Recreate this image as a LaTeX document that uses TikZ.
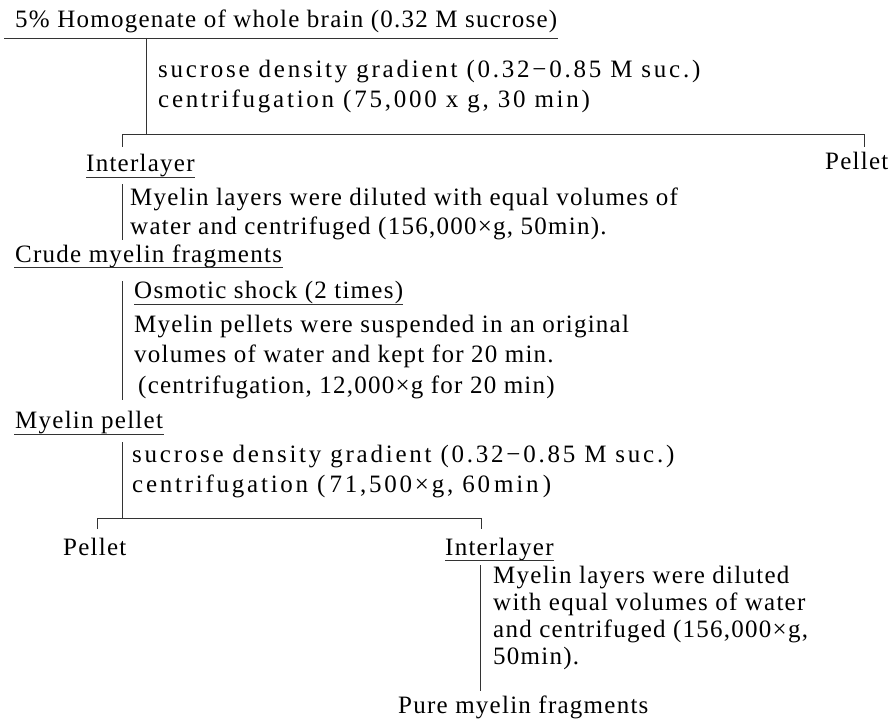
\documentclass[tikz,border=0pt]{standalone}
\usepackage{fontspec}
\setmainfont{Liberation Serif}[LetterSpace=5]
\newfontfamily\widefont{Liberation Serif}[LetterSpace=11]
\usetikzlibrary{positioning}
\tikzset{
  txt/.style={inner sep=0pt, anchor=base west, align=left, font=\fontsize{25}{29.5}\selectfont},
  wide/.style={txt, font=\widefont\fontsize{25}{30}\selectfont},
  rule/.style={line width=0.8pt, black!80},
}
\begin{document}
\begin{tikzpicture}[x=1pt,y=-1pt,line cap=butt]
\useasboundingbox (0,0) rectangle (891,722);
% homogenate, first gradient
\node[txt] (hom) at (15,28) {5\% Homogenate of whole brain (0.32 M sucrose)};
\draw[rule] ([shift={(-11pt,-10pt)}]hom.base west) coordinate (hom-u) -- ([shift={(1pt,-10pt)}]hom.base east);
\node[wide] (grad1) at (158,108) {sucrose density gradient (0.32−0.85 M suc.)\\centrifugation (75,000 x g, 30 min)};
\coordinate (split1) at (146,134);
\coordinate (tick1l) at (122,147);
\coordinate (tick1r) at (864,147);
\draw[rule] (hom-u -| split1) -- (split1);
\draw[rule] (tick1l) -- ++(0,-13) -| (tick1r);
\node[txt] (inter1) at (86,172) {Interlayer};
\draw[rule] ([yshift=-5pt]inter1.base west) -- ([yshift=-5pt]inter1.base east);
\node[txt] (pel1) at (825,170) {Pellet};
% crude myelin
\node[txt, font=\fontsize{25}{29}\selectfont] (dil1) at (130,234) {Myelin layers were diluted with equal volumes of\\water and centrifuged (156,000×g, 50min).};
\draw[rule] ([shift={(-8pt,3pt)}]dil1.north west) -- ([shift={(-8pt,0pt)}]dil1.south west);
\node[txt] (crude) at (15,262) {Crude myelin fragments};
\draw[rule] ([shift={(-1pt,-5pt)}]crude.base west) -- ([shift={(1pt,-5pt)}]crude.base east);
% osmotic shock
\node[txt] (osm) at (134,298) {Osmotic shock (2 times)};
\draw[rule] ([yshift=-6pt]osm.base west) -- ([yshift=-6pt]osm.base east);
\node[txt, font=\fontsize{25}{30.5}\selectfont] (shock) at (134,393) {Myelin pellets were suspended in an original\\volumes of water and kept for 20 min.\\\hspace*{4pt}(centrifugation, 12,000×g for 20 min)};
\draw[rule] ([shift={(-12pt,-1pt)}]osm.north west) -- ([shift={(-12pt,-1pt)}]shock.south west);
\node[txt] (mpel) at (15,428) {Myelin pellet};
\draw[rule] ([shift={(-1pt,-6pt)}]mpel.base west) coordinate (mpel-u) -- ([shift={(1pt,-6pt)}]mpel.base east);
% second gradient
\node[wide] (grad2) at (132,492) {sucrose density gradient (0.32−0.85 M suc.)\\centrifugation (\,71,500×g, 60\,min\,)};
\coordinate (split2) at (122,518);
\coordinate (tick2l) at (97,529);
\coordinate (tick2r) at (481,529);
\draw[rule] ([yshift=-8pt]mpel-u -| split2) -- (split2);
\draw[rule] (tick2l) -- ++(0,-11) -| (tick2r);
\node[txt] (pel2) at (63,555) {Pellet};
\node[txt] (inter2) at (445,555) {Interlayer};
\draw[rule] ([yshift=-5pt]inter2.base west) -- ([yshift=-5pt]inter2.base east);
% pure myelin
\node[txt, font=\fontsize{25}{27}\selectfont] (dil2) at (493,664) {Myelin layers were diluted\\with equal volumes of water\\and centrifuged (156,000×g,\\50min).};
\draw[rule] ([shift={(-13pt,0pt)}]dil2.north west) -- ([shift={(-13pt,-21pt)}]dil2.south west);
\node[txt] (pure) at (398,713) {Pure myelin fragments};
\end{tikzpicture}
\end{document}
